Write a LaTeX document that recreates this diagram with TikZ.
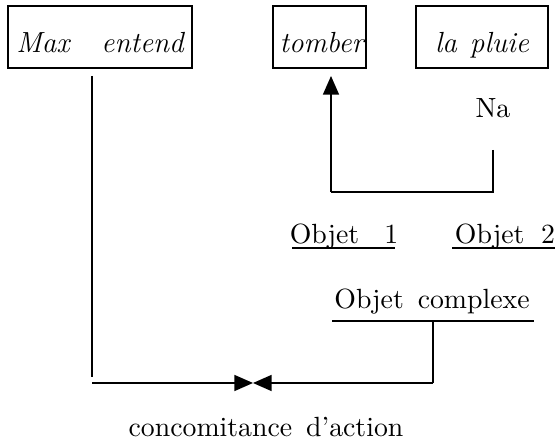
\documentclass[tikz,border=0pt]{standalone}
\usepackage{tikz}
\usetikzlibrary{arrows.meta, positioning}

\begin{document}
\begin{tikzpicture}[x=0.378pt, y=-0.378pt,
    box/.style={draw, semithick, minimum height=23.4pt, inner sep=2pt,
      text height=14pt, text depth=2pt, font=\fontsize{11}{13}\selectfont\itshape},
    word/.style={font=\fontsize{10.5}{12}\selectfont},
    link/.style={semithick},
    tip/.style={semithick, -{Triangle[length=7pt, width=6pt]}}]
  \useasboundingbox (0,0) rectangle (555,445);

  % Boxes
  \node[box, minimum width=69.6pt] (maxe) at (100,37) {Max\hspace{1.1em}entend};
  \node[box, text width=33.4pt, inner xsep=0.9pt, align=right] (tomber) at (319.5,37) {tomber};
  \node[box, minimum width=49.9pt] (pluie) at (482,37) {la\hspace{0.45em}pluie};

  % Labels
  \node[word] (na) at (493,108) {Na};
  \node[word] (obj1) at (344,237) {Objet\hspace{0.9em}1};
  \node[word] (obj2) at (505,237) {Objet\hspace{0.6em}2};
  \node[word] (objc) at (432,302) {Objet\hspace{0.5em}complexe};
  \node[word] (conc) at (266,427) {concomitance\hspace{0.5em}d'action};

  % Underlines
  \draw[link] (292,248) -- (395,248);
  \draw[link] (452,248) -- (555,248);
  \draw[link] (332,321) -- (534,321);

  % Points of the connectors
  \coordinate (na-foot) at (493,150);
  \coordinate (joint-r) at (493,192);
  \coordinate (joint-l) at (331,192);
  \coordinate (tomber-tip) at (331,76);
  \coordinate (maxe-foot) at (92,76);
  \coordinate (maxe-end) at (92,377);
  \coordinate (low-l) at (92,383);
  \coordinate (objc-foot) at (433,321);
  \coordinate (low-r) at (433,383);
  \coordinate (meet) at (253,383);

  % Connectors
  \draw[link] (na-foot) -- (joint-r) -- (joint-l);
  \draw[tip] (joint-l) -- (tomber-tip);
  \draw[link] (maxe-foot) -- (maxe-end);
  \draw[link] (objc-foot) -- (low-r);
  \draw[tip] (low-l) -- (meet);
  \draw[tip] (low-r) -- (meet);
\end{tikzpicture}
\end{document}
